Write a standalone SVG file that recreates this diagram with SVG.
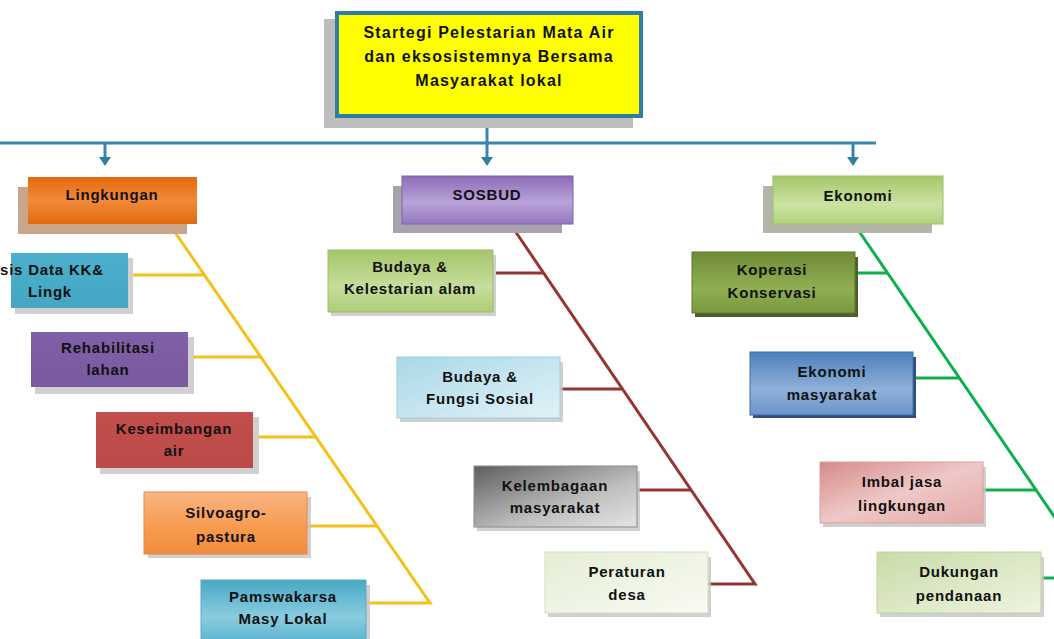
<svg xmlns="http://www.w3.org/2000/svg" width="1054" height="639" viewBox="0 0 1054 639">
<style>
text{font-family:"Liberation Sans",Arial,sans-serif;font-weight:bold;font-size:15px;fill:#111;letter-spacing:0.8px;text-anchor:middle}
.title{font-size:16px;letter-spacing:1.2px}
.sh{fill:#c4c4c4;opacity:.8}
.ly{stroke:#F5C01A;stroke-width:3;fill:none}
.lr{stroke:#943634;stroke-width:3;fill:none}
.lg{stroke:#0DB04B;stroke-width:3;fill:none}
.lb{stroke:#3B84AA;stroke-width:3;fill:none}
</style>
<defs>
<marker id="ar" viewBox="0 0 9 12" refX="0" refY="6" markerWidth="9" markerHeight="12" markerUnits="userSpaceOnUse" orient="auto"><path d="M0,0 L9,6 L0,12 Z" fill="#2E7FA3"/></marker>
<linearGradient id="gOr" x1="0" y1="0" x2="0" y2="1"><stop offset="0" stop-color="#E36A0C"/><stop offset=".5" stop-color="#F28A3A"/><stop offset="1" stop-color="#E06A0E"/></linearGradient>
<linearGradient id="gPu" x1="0" y1="0" x2="0" y2="1"><stop offset="0" stop-color="#8C6CB8"/><stop offset=".55" stop-color="#B9A3D8"/><stop offset="1" stop-color="#9478C0"/></linearGradient>
<linearGradient id="gGr" x1="0" y1="0" x2="0" y2="1"><stop offset="0" stop-color="#A4C86A"/><stop offset=".6" stop-color="#CBE2A2"/><stop offset="1" stop-color="#B2D27C"/></linearGradient>
<linearGradient id="gBl" x1="0" y1="0" x2="0" y2="1"><stop offset="0" stop-color="#4CB0CC"/><stop offset="1" stop-color="#44A6C2"/></linearGradient>
<linearGradient id="gRh" x1="0" y1="0" x2="0" y2="1"><stop offset="0" stop-color="#7F5FA6"/><stop offset="1" stop-color="#7A5A9E"/></linearGradient>
<linearGradient id="gRd" x1="0" y1="0" x2="0" y2="1"><stop offset="0" stop-color="#C24E4C"/><stop offset="1" stop-color="#BB4A48"/></linearGradient>
<linearGradient id="gSi" x1="0" y1="0" x2="0" y2="1"><stop offset="0" stop-color="#F9B582"/><stop offset=".6" stop-color="#F79A4E"/><stop offset="1" stop-color="#F08C3C"/></linearGradient>
<linearGradient id="gPa" x1="0" y1="0" x2="0" y2="1"><stop offset="0" stop-color="#48A9C5"/><stop offset=".6" stop-color="#8ACCE0"/><stop offset="1" stop-color="#5BB4CD"/></linearGradient>
<linearGradient id="gBk" x1="0" y1="0" x2="0" y2="1"><stop offset="0" stop-color="#A5C66A"/><stop offset=".6" stop-color="#C6DD9C"/><stop offset="1" stop-color="#AECC78"/></linearGradient>
<linearGradient id="gBf" x1="0" y1="0" x2="1" y2="1"><stop offset="0" stop-color="#A9D8E6"/><stop offset="1" stop-color="#E2F2F7"/></linearGradient>
<linearGradient id="gKe" x1="0" y1="0" x2="1" y2="1"><stop offset="0" stop-color="#5E5E5E"/><stop offset=".6" stop-color="#BEBEBE"/><stop offset="1" stop-color="#E4E4E4"/></linearGradient>
<linearGradient id="gPe" x1="0" y1="0" x2="1" y2="1"><stop offset="0" stop-color="#E5EDD5"/><stop offset="1" stop-color="#F8FBF2"/></linearGradient>
<linearGradient id="gKo" x1="0" y1="0" x2="0" y2="1"><stop offset="0" stop-color="#6F8C36"/><stop offset=".6" stop-color="#90AE52"/><stop offset="1" stop-color="#7A983F"/></linearGradient>
<linearGradient id="gEm" x1="0" y1="0" x2="0" y2="1"><stop offset="0" stop-color="#4F81BD"/><stop offset=".6" stop-color="#8FB0D8"/><stop offset="1" stop-color="#6A94C8"/></linearGradient>
<linearGradient id="gIm" x1="0" y1="0" x2="1" y2="1"><stop offset="0" stop-color="#D58B8A"/><stop offset=".5" stop-color="#EEC8C7"/><stop offset="1" stop-color="#E2A9A8"/></linearGradient>
<linearGradient id="gDu" x1="0" y1="0" x2="1" y2="1"><stop offset="0" stop-color="#C9DBA7"/><stop offset="1" stop-color="#EEF4E2"/></linearGradient>
</defs>
<rect width="1054" height="639" fill="#fff"/>

<g id="connectors">
<line class="lb" x1="487" y1="117" x2="487" y2="143"/>
<line class="lb" x1="0" y1="143" x2="876" y2="143"/>
<line class="lb" x1="105" y1="143" x2="105" y2="157" marker-end="url(#ar)"/>
<line class="lb" x1="487" y1="143" x2="487" y2="157" marker-end="url(#ar)"/>
<line class="lb" x1="853" y1="143" x2="853" y2="157" marker-end="url(#ar)"/>
<polyline class="ly" points="170,225 430,603 362,603"/>
<line class="ly" x1="133" y1="275" x2="204" y2="275"/>
<line class="ly" x1="193" y1="357" x2="261" y2="357"/>
<line class="ly" x1="258" y1="437" x2="316" y2="437"/>
<line class="ly" x1="307" y1="526" x2="377" y2="526"/>
<polyline class="lr" points="511,225 755,584 702,584"/>
<line class="lr" x1="496" y1="273" x2="544" y2="273"/>
<line class="lr" x1="561" y1="389" x2="623" y2="389"/>
<line class="lr" x1="638" y1="490" x2="691" y2="490"/>
<line class="lg" x1="852" y1="221" x2="1060" y2="525"/>
<line class="lg" x1="855" y1="273" x2="888" y2="273"/>
<line class="lg" x1="913" y1="378" x2="960" y2="378"/>
<line class="lg" x1="983" y1="490" x2="1037" y2="490"/>
<line class="lg" x1="1042" y1="578" x2="1054" y2="578"/>
</g>

<g id="root">
<rect x="324" y="19" width="309" height="109" fill="#BDBDBD"/>
<rect x="337" y="13" width="304" height="103" fill="#FFFF00" stroke="#2E7DA6" stroke-width="4"/>
<text class="title" x="489" y="38">Startegi Pelestarian Mata Air</text>
<text class="title" x="489" y="62">dan eksosistemnya Bersama</text>
<text class="title" x="489" y="86">Masyarakat lokal</text>
</g>

<g id="lingkungan">
<rect x="18" y="187" width="169" height="47" fill="#C9A58C"/>
<rect x="28" y="177" width="169" height="47" fill="url(#gOr)"/>
<text x="112" y="200">Lingkungan</text>
</g>
<g id="sosbud">
<rect x="393" y="186" width="169" height="47" fill="#A8A2AE"/>
<rect x="402" y="176" width="171" height="48" fill="url(#gPu)" stroke="#7E62A6"/>
<text x="487" y="200">SOSBUD</text>
</g>
<g id="ekonomi">
<rect x="763" y="186" width="169" height="47" fill="#B2B6A8"/>
<rect x="773" y="176" width="170" height="48" fill="url(#gGr)" stroke="#9DBE6A"/>
<text x="858" y="201">Ekonomi</text>
</g>

<g id="analisis">
<rect class="sh" x="15" y="258" width="118" height="56"/>
<rect x="11" y="253" width="117" height="55" fill="url(#gBl)"/>
<text x="0" y="275" style="text-anchor:start">sis Data KK&amp;</text>
<text x="50" y="297">Lingk</text>
</g>
<g id="rehabilitasi">
<rect class="sh" x="35" y="337" width="159" height="57"/>
<rect x="31" y="332" width="157" height="55" fill="url(#gRh)"/>
<text x="108" y="353">Rehabilitasi</text>
<text x="108" y="375">lahan</text>
</g>
<g id="keseimbangan">
<rect class="sh" x="100" y="417" width="159" height="57"/>
<rect x="96" y="412" width="157" height="56" fill="url(#gRd)"/>
<text x="174" y="434">Keseimbangan</text>
<text x="174" y="456">air</text>
</g>
<g id="silvoagro">
<rect class="sh" x="148" y="497" width="163" height="61"/>
<rect x="144" y="492" width="163" height="62" fill="url(#gSi)" stroke="#E8894A"/>
<text x="226" y="518">Silvoagro-</text>
<text x="226" y="542">pastura</text>
</g>
<g id="pamswakarsa">
<rect class="sh" x="205" y="585" width="165" height="60"/>
<rect x="201" y="580" width="165" height="62" fill="url(#gPa)" stroke="#5EA9C0"/>
<text x="283" y="602">Pamswakarsa</text>
<text x="283" y="624">Masy Lokal</text>
</g>

<g id="budaya-kelestarian">
<rect class="sh" x="331" y="255" width="165" height="61"/>
<rect x="328" y="250" width="165" height="62" fill="url(#gBk)" stroke="#9DBB66"/>
<text x="410" y="272">Budaya &amp;</text>
<text x="410" y="294">Kelestarian alam</text>
</g>
<g id="budaya-fungsi">
<rect class="sh" x="400" y="362" width="163" height="60"/>
<rect x="397" y="357" width="163" height="61" fill="url(#gBf)" stroke="#9CCFDD"/>
<text x="480" y="382">Budaya &amp;</text>
<text x="480" y="404">Fungsi Sosial</text>
</g>
<g id="kelembagaan">
<rect class="sh" x="477" y="471" width="163" height="60"/>
<rect x="474" y="466" width="163" height="61" fill="url(#gKe)" stroke="#8A8A8A"/>
<text x="555" y="491">Kelembagaan</text>
<text x="555" y="513">masyarakat</text>
</g>
<g id="peraturan">
<rect class="sh" x="548" y="557" width="163" height="60"/>
<rect x="545" y="552" width="163" height="61" fill="url(#gPe)" stroke="#D4DFC0"/>
<text x="627" y="577">Peraturan</text>
<text x="627" y="600">desa</text>
</g>

<g id="koperasi">
<rect x="695" y="257" width="163" height="60" fill="#4E5F2A"/>
<rect x="692" y="252" width="163" height="61" fill="url(#gKo)" stroke="#5F7A2D"/>
<text x="772" y="275">Koperasi</text>
<text x="772" y="298">Konservasi</text>
</g>
<g id="ekonomi-masyarakat">
<rect x="753" y="357" width="163" height="61" fill="#2F4F7A"/>
<rect x="750" y="352" width="163" height="63" fill="url(#gEm)" stroke="#3F6FA8"/>
<text x="832" y="377">Ekonomi</text>
<text x="832" y="400">masyarakat</text>
</g>
<g id="imbal-jasa">
<rect class="sh" x="823" y="467" width="163" height="60"/>
<rect x="820" y="462" width="163" height="61" fill="url(#gIm)" stroke="#D9A0A0"/>
<text x="902" y="487">Imbal jasa</text>
<text x="902" y="511">lingkungan</text>
</g>
<g id="dukungan">
<rect class="sh" x="880" y="557" width="164" height="60"/>
<rect x="877" y="552" width="164" height="61" fill="url(#gDu)" stroke="#BFD29A"/>
<text x="959" y="577">Dukungan</text>
<text x="959" y="601">pendanaan</text>
</g>
</svg>
